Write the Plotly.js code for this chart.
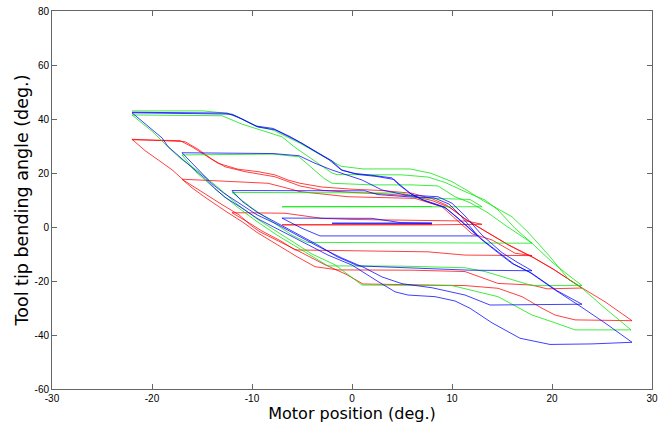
<!DOCTYPE html>
<html>
<head>
<meta charset="utf-8">
<script src="https://cdn.plot.ly/plotly-3.0.1.min.js"></script>
<style>
  html, body { margin: 0; padding: 0; background: #fff; }
  #chart { width: 668px; height: 424px; }
</style>
</head>
<body>
<div id="chart"></div>
<script>
// Motor position (deg.) vs. tool tip bending angle (deg.), three runs.
// Each run sweeps the motor back and forth with shrinking amplitude.

const redX = [-22,-17.2,-16,-14.7,-13.4,-11.4,-9.4,-7.7,-6.4,-5.2,-3,0,3,6,8,9.5,11.3,13.3,15.6,18,20,22.8,25.3,28,
  24,22.3,20.3,19,17,14.6,11.3,6,1.1,-0.6,-2.8,-5.3,-7.5,-9.2,-10,-11.3,-13,-15.1,-16.8,-18,-19.4,-20.7,-22,
  -16.7,-15.4,-14,-12.7,-10.7,-7.7,-6,-5.2,-3,0,3,6,8,9.8,11.5,13.5,15.8,18.2,20.2,23,
  19.5,18,14.6,11.3,6,-1.4,-3.7,-5.5,-7.5,-9.5,-11,-12.5,-14.5,-16,-17,
  -11.7,-8.4,-6.4,-5.2,-0.4,6.3,9,10.5,12,14,16.3,18,
  11.3,7.6,-5.7,-7.2,-9,-10.5,-12,
  -6.7,-5.2,-3,0,8,11.5,13,
  8,-7,
  8];
const redY = [32.3,32,29.7,26.7,23.6,21.4,20.5,19.3,17.4,16.2,14.8,14,13.5,12.5,10.5,8,3,-1.5,-6.5,-11,-15.3,-22.1,-27.7,-34.7,
  -34.6,-34.4,-32.6,-30.1,-25.8,-22.7,-21.7,-21.4,-21.1,-17.5,-13.8,-9,-5,-1.8,0.3,4.5,8.3,13.2,17.2,21.2,25,28.3,32.5,
  31.6,28.8,25.1,22.3,20.5,18.6,16.2,15.2,13.6,12.8,12.3,11.5,9.8,7.2,2.5,-2,-7,-11.5,-15.8,-22.6,
  -22.9,-21.5,-20.9,-16.5,-16,-15.9,-14.7,-11,-6.5,-2,2,5.5,10.5,14.5,17.7,
  16.9,16.2,14.3,13.1,11.2,10.6,7.5,2.5,-2.5,-4.8,-9.7,-10.6,
  -10.4,-9.2,-8.5,-5,-1.5,2,5.3,
  5.1,4.4,3.2,2.8,2.5,2.2,1,
  0.8,0.8,
  0.9];

const greenX = [-22,-14.9,-13,-11.7,-9.6,-7.9,-5.3,-2.8,-1.1,1.1,5.8,7.9,10,11.7,13,16,17.7,19.8,21.7,22.8,25.3,27.9,
  22.3,20,18,14.6,11.3,10,1,-0.5,-1.7,-4,-5.7,-7.5,-9.5,-11.5,-13.5,-15.5,-17.2,-18.5,-20,-22,
  -13,-11,-8.7,-7,-5.7,-3.7,-2,-1.5,5,7.6,9.3,11.3,13.3,14.6,16.3,18,20,21.7,23,
  18,13.3,11.3,5,-2.4,-3.7,-5.7,-7.5,-9.5,-11.5,-13.5,-15.5,-17,
  -7.9,-5.3,-4,-2.8,-2,2,6,8.6,10.3,11.8,13.5,15.3,18,
  -4.5,-6,-8,-10,-12,
  -5,5,6.5,9.3,11.8,13,
  -7,
  8];
const greenY = [43,43,42.3,41.3,37.4,35.9,31.2,26.2,22.5,21.5,21.5,19.9,16.8,13.1,10,3.8,-2.3,-11,-19.6,-22,-30.1,-38.1,
  -38.1,-35.1,-32.6,-25.8,-22.7,-21.7,-21.5,-17.5,-14,-10,-6,-2,3,8.5,15,21,25.5,30,35.5,41.5,
  41.2,38.1,35.3,33.4,29.5,24.2,20,19.4,19.3,18.5,16.5,13.1,10,6.3,-0.5,-6,-13,-18,-21.7,
  -21.7,-16.5,-15.1,-14.5,-14.4,-11.5,-7,-3,2,7.5,13.5,20,26.7,
  27,26,22,18,16.2,15.6,15.6,15.2,11.2,9,5.5,0.7,-6,
  -5.7,-3,2,7,12.8,
  12.8,12.6,10.8,10.5,10.2,7.5,
  7.5,
  7.6];

const blueX = [-22,-12.5,-11,-9.6,-7.9,-6.2,-5.3,-3.6,-2.3,-1.1,0.2,2.3,4,4.7,5.8,7,9.2,10.4,11.3,13,14.7,16,17.7,20.3,22.8,25.4,28,
  24,19.8,18.5,16.8,14,11.8,10.3,8.3,5.6,4.3,2.6,0,-2.4,-5.7,-7.7,-9.4,-11,-12.7,-13.7,-14.7,-16,-17.2,-18.4,-19,-20.7,-22,
  -12,-10.5,-9.4,-7.7,-6,-5,-3.4,-2,-1,0.5,2.5,4.2,5,6,7.2,9.4,10.6,11.5,13.2,15,16.2,18,20.5,23,
  18,13.8,11.3,8,5,3,1.2,-1,-3.5,-5.5,-7.5,-9.5,-11.2,-12.8,-14,-15.2,-16,-17,
  -7.9,-5.3,-3.7,-2,1,3,5.3,8.6,10,11.2,13,15,16.5,18,
  11.8,5.3,0.6,-1.5,-3.5,-5.5,-7.5,-9.5,-11,-12,
  1.3,2.6,5.6,8.2,9.7,10.8,12.6,
  -3.2,-5,-7,
  2,4.9,8,
  -2,
  8];
const blueY = [42.5,42.2,40,37.4,36.5,33.5,31.6,27.9,24.9,21.2,19.9,19,18.2,15.6,12.5,10.2,7.5,3.8,0.7,-4.8,-9.8,-13.5,-16.6,-23.3,-29.3,-35.8,-42.7,
  -43.3,-43.5,-42.5,-41.2,-35.5,-30.1,-27.4,-25.8,-25.2,-24,-20.2,-14.1,-10.4,-4.2,-0.5,3,7,11,14.2,18,22,25.8,29.8,33,38.3,42.3,
  41.8,39.2,37,36,33,31,27.5,24.5,21,19.5,18.7,17.6,15,12,9.8,7,3.3,0.3,-5.2,-10.3,-13.8,-17.2,-23.6,-28.6,
  -28.9,-28.9,-25.2,-22.5,-21,-18.5,-15,-11.5,-7,-3,1,4.5,8.5,12.5,16,20.5,23.5,27.5,
  27.2,26.4,23.6,21.1,17.4,13.7,11.9,11.2,8.8,4.5,-3,-9.5,-13,-16.2,
  -16,-15,-14.4,-11,-6.5,-2.5,1.5,5.5,9.5,13.5,
  13.4,12,11.2,10.8,8.5,4.5,-3.3,
  -3.3,-0.5,3.3,
  3.2,1.6,1.4,
  1.4,
  1.4];

const xTicks = [-30, -20, -10, 0, 10, 20, 30];
const yTicks = [-60, -40, -20, 0, 20, 40, 60, 80];

const runs = [
  { x: redX, y: redY, color: 'rgb(255,0,0)' },
  { x: greenX, y: greenY, color: 'rgb(0,230,0)' },
  { x: blueX, y: blueY, color: 'rgb(0,0,255)' }
];

const traces = runs.map(r => ({
  type: 'scatter',
  mode: 'lines',
  x: r.x,
  y: r.y,
  line: { color: r.color, width: 1 },
  opacity: 0.75,
  hoverinfo: 'skip'
}));

const axisCommon = {
  showgrid: false,
  zeroline: false,
  showline: true,
  linecolor: '#666',
  linewidth: 1,
  mirror: 'ticks',
  ticks: 'inside',
  ticklen: 5,
  tickcolor: '#666',
  tickfont: { family: 'Liberation Sans, Arial, sans-serif', size: 10, color: '#000' }
};

const layout = {
  width: 668,
  height: 424,
  margin: { l: 52, r: 16, t: 11, b: 35 },
  paper_bgcolor: '#fff',
  plot_bgcolor: '#fff',
  showlegend: false,
  xaxis: Object.assign({}, axisCommon, {
    range: [-30, 30],
    tickvals: xTicks,
    ticktext: xTicks.map(String),
    title: { text: 'Motor position (deg.)', standoff: 0,
             font: { family: 'DejaVu Sans, sans-serif', size: 16, color: '#000' } }
  }),
  yaxis: Object.assign({}, axisCommon, {
    range: [-60, 80],
    tickvals: yTicks,
    ticktext: yTicks.map(String),
    title: { text: 'Tool tip bending angle (deg.)', standoff: 1,
             font: { family: 'DejaVu Sans, sans-serif', size: 17.5, color: '#000' } }
  })
};

Plotly.newPlot('chart', traces, layout, { staticPlot: true, displayModeBar: false });
</script>
</body>
</html>
